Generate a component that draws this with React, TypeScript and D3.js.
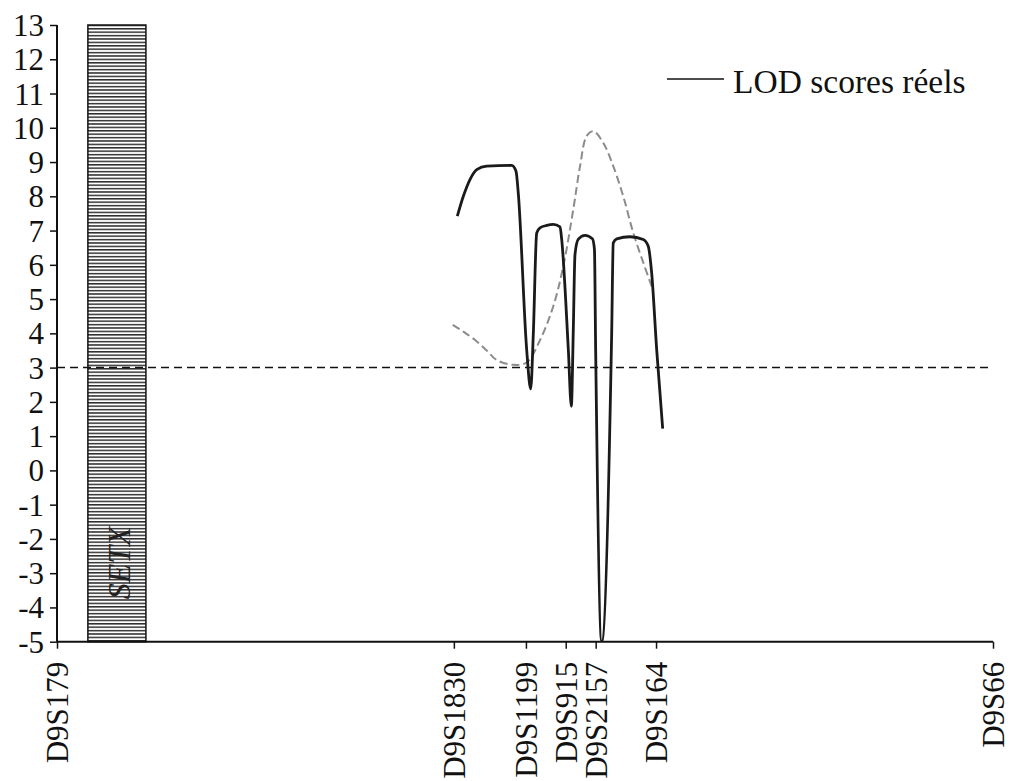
import React, { useEffect, useRef } from "react";
import * as d3 from "d3";

// marker positions along the chromosome (arbitrary units, D9S179 = 0)
const markers = ["D9S179", "D9S1830", "D9S1199", "D9S915", "D9S2157", "D9S164", "D9S66"];
const markerPos = [0, 42.4, 50.1, 54.35, 57.55, 64.0, 100];

const yTicks = d3.range(-5, 14);
const threshold = 3;

// SETX gene region
const geneName = "SETX";
const geneRange = [3.3, 9.5];

// real LOD scores (solid line)
const realPos = [42.77, 43.41, 44.12, 44.84, 45.91, 48.58, 49.04, 49.28, 50.18, 50.61, 50.89, 51.25, 51.6, 52.32, 53.02, 53.74, 53.92, 54.63, 54.95, 55.16, 55.34, 55.7, 56.41, 57.2, 57.42, 57.55, 58.19, 59.26, 59.43, 59.8, 61.22, 62.64, 63.17, 63.53, 64.07, 64.71];
const realLod = [7.42, 8.0, 8.49, 8.78, 8.88, 8.9, 8.73, 8.1, 3.52, 2.38, 4.0, 6.93, 7.08, 7.15, 7.18, 7.11, 6.74, 3.52, 1.87, 4.1, 6.3, 6.75, 6.86, 6.76, 6.45, 3.5, -5.0, 4.0, 6.64, 6.76, 6.82, 6.74, 6.54, 5.77, 3.52, 1.22];

// second series (grey dashed)
const simPos = [42.28, 43.41, 44.7, 45.91, 46.98, 48.75, 50.18, 51.6, 53.02, 54.09, 55.16, 55.88, 56.59, 57.3, 58.36, 59.43, 60.5, 61.57, 62.64, 63.54];
const simLod = [4.25, 4.05, 3.8, 3.5, 3.22, 3.08, 3.15, 3.8, 4.79, 5.96, 7.62, 8.88, 9.76, 9.9, 9.56, 8.88, 8.0, 6.93, 6.06, 5.37];

const legendLabel = "LOD scores réels";

const W = 1012;
const H = 781;
const FONT = "'Liberation Serif', 'Times New Roman', serif";

export default function App() {
  const ref = useRef<SVGSVGElement>(null);

  useEffect(() => {
    const svg = d3.select(ref.current);
    svg.selectAll("*").remove();

    const x = d3.scaleLinear().domain([0, 100]).range([57, 993]);
    const y = d3.scaleLinear().domain([-5, 13]).range([641.7, 25]);

    const defs = svg.append("defs");
    const pat = defs.append("pattern")
      .attr("id", "hatch")
      .attr("patternUnits", "userSpaceOnUse")
      .attr("width", 6)
      .attr("height", 3.4);
    pat.append("rect").attr("width", 6).attr("height", 3.4).attr("fill", "#fff");
    pat.append("rect").attr("y", 0.9).attr("width", 6).attr("height", 1.4).attr("fill", "#222");

    defs.append("clipPath").attr("id", "plot")
      .append("rect")
      .attr("x", x(0)).attr("y", y(13) - 5)
      .attr("width", x(100) - x(0)).attr("height", y(-5) - y(13) + 5);

    // SETX bar
    svg.append("rect")
      .attr("x", x(geneRange[0]))
      .attr("y", y(13))
      .attr("width", x(geneRange[1]) - x(geneRange[0]))
      .attr("height", y(-5) - y(13))
      .attr("fill", "url(#hatch)")
      .attr("stroke", "#111")
      .attr("stroke-width", 1.5);

    const gx = (x(geneRange[0]) + x(geneRange[1])) / 2 + 2;
    svg.append("text")
      .attr("transform", `translate(${gx},${y(-2.7)}) rotate(-90)`)
      .attr("text-anchor", "middle")
      .attr("dy", "0.35em")
      .attr("font-family", FONT)
      .attr("font-style", "italic")
      .attr("font-size", 32)
      .attr("fill", "#222")
      .text(geneName);

    // threshold line
    svg.append("line")
      .attr("x1", x(0)).attr("x2", x(100))
      .attr("y1", y(threshold)).attr("y2", y(threshold))
      .attr("stroke", "#111")
      .attr("stroke-width", 1.5)
      .attr("stroke-dasharray", "8,5");

    // y axis
    const yAxis = svg.append("g")
      .attr("transform", `translate(${x(0)},0)`)
      .call(d3.axisLeft(y).tickValues(yTicks).tickFormat((d) => String(d)).tickSize(7).tickPadding(7));
    yAxis.attr("font-family", FONT);
    yAxis.select(".domain").attr("stroke", "#111").attr("stroke-width", 2).attr("d", `M0,${y(13)}V${y(-5)}`);
    yAxis.selectAll(".tick line").attr("stroke", "#111").attr("stroke-width", 1.5);
    yAxis.selectAll(".tick text")
      .attr("font-family", FONT)
      .attr("font-size", 31)
      .attr("fill", "#111")
      .attr("x", -13)
      .attr("dy", "0.34em");

    // x axis
    const xAxis = svg.append("g")
      .attr("transform", `translate(0,${y(-5)})`)
      .call(d3.axisBottom(x).tickValues(markerPos).tickFormat((d, i) => markers[i]).tickSize(7));
    xAxis.attr("font-family", FONT);
    xAxis.select(".domain").attr("stroke", "#111").attr("stroke-width", 2).attr("d", `M${x(0)},0H${x(100)}`);
    xAxis.selectAll(".tick line").attr("stroke", "#111").attr("stroke-width", 1.5);
    xAxis.selectAll(".tick text")
      .attr("font-family", FONT)
      .attr("font-size", 31)
      .attr("fill", "#111")
      .attr("text-anchor", "end")
      .attr("transform", "rotate(-90)")
      .attr("x", -20)
      .attr("y", 0)
      .attr("dy", "0.35em");

    const plot = svg.append("g").attr("clip-path", "url(#plot)");

    const simLine = d3.line<number>()
      .x((d) => x(d))
      .y((d, i) => y(simLod[i]))
      .curve(d3.curveCatmullRom.alpha(0.5));

    plot.append("path")
      .attr("d", simLine(simPos))
      .attr("fill", "none")
      .attr("stroke", "#8c8c8c")
      .attr("stroke-width", 2)
      .attr("stroke-dasharray", "8,4");

    const realLine = d3.line<number>()
      .x((d) => x(d))
      .y((d, i) => y(realLod[i]))
      .curve(d3.curveMonotoneX);

    plot.append("path")
      .attr("d", realLine(realPos))
      .attr("fill", "none")
      .attr("stroke", "#1a1a1a")
      .attr("stroke-width", 2.8)
      .attr("stroke-linejoin", "round");

    // legend
    svg.append("line")
      .attr("x1", 667).attr("x2", 724)
      .attr("y1", 79).attr("y2", 79)
      .attr("stroke", "#111")
      .attr("stroke-width", 1.5);
    svg.append("text")
      .attr("x", 733).attr("y", 93)
      .attr("font-family", FONT)
      .attr("font-size", 33.5)
      .attr("fill", "#111")
      .text(legendLabel);
  }, []);

  return (
    <svg
      ref={ref}
      width={W}
      height={H}
      style={{ position: "absolute", left: 0, top: 0, background: "#fff" }}
    />
  );
}
